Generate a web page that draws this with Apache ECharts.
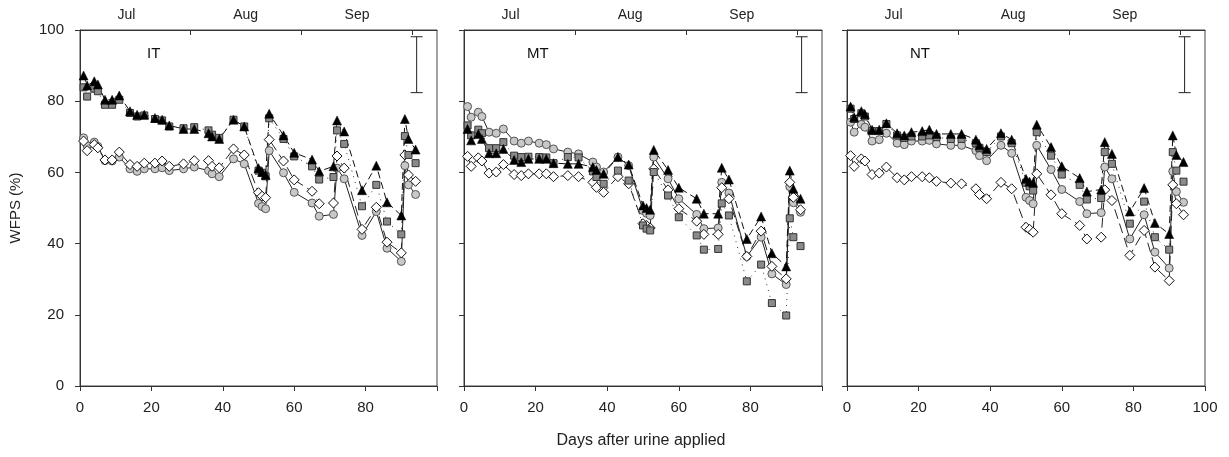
<!DOCTYPE html>
<html>
<head>
<meta charset="utf-8">
<script src="https://cdn.jsdelivr.net/npm/echarts@6/dist/echarts.min.js"></script>
<style>
html,body{margin:0;padding:0;background:#fff;}
#chart{width:1229px;height:457px;}
</style>
</head>
<body>
<div id="chart"></div>
<script>
// ---- Data ----
const days = [1,2,4,5,7,9,11,14,16,18,21,23,25,29,32,36,37,39,43,46,50,51,52,53,57,60,65,67,71,72,74,79,83,86,90,91,92,94];

const panelNames = ['IT','MT','NT'];

const IT_tri = [87.2,84.4,85.6,84.7,80.4,80.4,81.6,77.2,76.2,76.2,75.3,74.8,73.2,72.2,72.2,71.0,70.1,69.4,74.8,72.9,61.2,60.1,59.3,76.5,70.4,65.5,63.6,60.3,61.7,74.6,71.5,55.0,61.9,51.6,47.9,75.0,69.4,66.4];
const IT_sq  = [83.9,81.3,83.5,82.8,79.0,79.0,80.4,76.7,75.7,76.0,75.0,74.6,72.9,72.4,72.7,71.8,70.6,69.7,74.8,72.9,60.5,59.9,58.9,75.2,69.4,64.5,61.7,58.0,58.7,71.8,68.0,50.5,56.5,46.2,42.6,70.2,64.9,62.6];
const IT_cir = [69.7,67.5,68.5,67.3,63.3,63.2,64.3,61.0,60.3,61.0,61.0,61.3,60.5,61.0,61.5,60.5,59.6,58.8,63.8,62.4,51.3,50.4,49.8,66.1,59.9,54.4,51.4,47.7,48.2,61.2,58.2,42.3,49.0,38.7,35.0,61.9,56.5,53.8];
const IT_dia = [68.8,66.1,67.8,66.9,63.5,63.5,65.7,62.2,61.7,62.6,62.6,63.2,61.7,62.4,63.3,63.3,61.7,61.3,66.6,64.9,54.3,53.3,52.9,69.2,63.2,57.9,54.7,51.2,51.4,64.6,61.2,44.0,50.2,40.4,37.4,64.9,59.3,57.5];

const MT_tri = [72.2,69.0,70.8,69.4,65.4,65.4,66.6,63.5,62.9,63.8,63.8,63.8,62.6,62.4,62.4,61.5,60.7,59.6,64.3,62.2,50.7,50.0,49.5,66.3,60.7,55.7,52.6,48.4,48.4,61.3,58.0,41.3,47.6,37.3,33.6,60.5,55.4,52.6];
const MT_sq  = [73.2,70.4,72.0,71.0,66.8,66.8,68.5,64.7,64.3,64.4,64.3,64.2,62.6,64.3,64.2,60.3,58.7,56.8,60.5,57.7,45.1,44.2,43.7,60.1,53.5,47.4,42.3,38.3,38.5,51.3,47.9,29.4,34.1,23.3,19.8,47.1,41.8,39.3];
const MT_cir = [78.5,75.5,76.9,75.7,71.3,71.0,72.2,68.8,68.2,68.8,68.2,67.8,66.6,65.7,65.2,62.9,61.5,60.1,64.3,61.9,49.3,48.5,47.9,64.3,58.2,52.6,48.2,44.2,44.4,57.2,54.2,36.4,41.8,31.5,28.5,56.0,51.5,48.8];
const MT_dia = [64.5,61.7,64.1,63.2,59.8,60.1,62.2,59.4,59.1,59.6,59.6,59.6,58.8,59.1,58.8,57.2,55.8,54.4,58.8,56.8,45.6,45.1,44.4,61.0,55.1,49.8,46.3,42.6,42.6,55.7,52.6,36.4,43.5,33.6,30.1,57.2,53.0,49.5];

const NT_tri = [78.5,75.5,77.2,76.3,72.0,72.0,73.8,71.0,70.4,71.3,71.6,72.0,70.8,70.8,70.8,69.2,67.6,66.6,71.0,69.2,58.2,57.4,57.1,73.4,67.1,61.7,58.4,54.6,55.2,68.5,65.2,49.0,55.6,45.8,42.7,70.4,64.9,62.9];
const NT_sq  = [77.9,75.0,76.6,75.7,71.6,71.6,73.6,70.4,69.7,70.1,70.1,70.4,69.9,69.4,69.4,68.2,66.9,65.7,70.1,68.2,57.1,56.1,54.9,71.3,64.7,59.4,56.5,52.4,52.8,65.7,62.4,45.6,51.8,41.8,38.3,65.7,60.5,57.4];
const NT_cir = [74.1,71.3,73.5,72.7,68.8,69.2,71.0,68.2,67.8,68.8,68.8,69.0,68.0,67.6,67.6,66.1,64.7,63.3,67.6,65.4,53.0,52.1,51.2,67.6,60.8,55.2,51.8,48.4,48.7,61.5,58.2,41.3,48.1,37.6,33.1,60.3,54.6,51.6];
const NT_dia = [64.7,61.7,63.8,63.2,59.4,59.8,61.5,58.5,57.9,58.8,58.8,58.5,57.5,57.0,56.8,55.4,53.8,52.6,57.2,55.4,44.6,44.0,43.2,59.6,53.7,48.4,45.1,41.3,41.8,55.1,52.1,36.7,43.7,33.4,29.6,56.5,51.2,48.1];

// error bar: [day, low, high]
const errorBar = [94.3, 82.4, 98.1];

// month labels on the top axis
const monthTicks = [31, 62, 93];
const monthLabelPos = [13, 46.4, 77.6];
const monthNames = ['Jul', 'Aug', 'Sep'];

// ---- Build chart ----
const panels = [
  {tri: IT_tri, sq: IT_sq, cir: IT_cir, dia: IT_dia},
  {tri: MT_tri, sq: MT_sq, cir: MT_cir, dia: MT_dia},
  {tri: NT_tri, sq: NT_sq, cir: NT_cir, dia: NT_dia}
];

const FONT = '"Liberation Sans", Arial, sans-serif';
const TXT = '#222';
const AX = '#333';

const gridLefts = [80, 464, 847];
const gridW = [357, 358, 358];

const grids = [], xAxes = [], yAxes = [], series = [];
const pair = arr => days.map((d, i) => [d, arr[i]]);

panels.forEach((p, i) => {
  grids.push({left: gridLefts[i], top: 30, width: gridW[i], height: 356,
    show: true, borderColor: '#444', borderWidth: 1, backgroundColor: 'transparent'});
  // bottom axis
  xAxes.push({
    gridIndex: i, type: 'value', position: 'bottom', min: 0, max: 100, interval: 20,
    axisLine: {show: true, onZero: false, lineStyle: {color: AX, width: 1}},
    axisTick: {show: true, inside: false, length: 5, lineStyle: {color: AX}},
    axisLabel: {show: true, margin: 14, color: TXT, fontSize: 15, fontFamily: FONT,
      formatter: v => (i < 2 && v === 100) ? '' : String(v)},
    splitLine: {show: false}
  });
  // top axis (months)
  xAxes.push({
    gridIndex: i, type: 'value', position: 'top', min: 0, max: 100,
    axisLine: {show: true, onZero: false, lineStyle: {color: AX, width: 1}},
    axisTick: {show: true, inside: true, length: 5, customValues: monthTicks, lineStyle: {color: AX}},
    axisLabel: {show: true, margin: 8, color: TXT, fontSize: 14, fontFamily: FONT,
      customValues: monthLabelPos,
      formatter: v => {
        let k = 0, best = 1e9;
        monthLabelPos.forEach((m, j) => { if (Math.abs(m - v) < best) { best = Math.abs(m - v); k = j; } });
        return monthNames[k];
      }},
    splitLine: {show: false}
  });
  yAxes.push({
    gridIndex: i, type: 'value', min: 0, max: 100, interval: 20,
    axisLine: {show: true, onZero: false, lineStyle: {color: AX, width: 1}},
    axisTick: {show: true, inside: false, length: 5, lineStyle: {color: AX}},
    axisLabel: {show: i === 0, margin: 16, color: TXT, fontSize: 15, fontFamily: FONT},
    splitLine: {show: false}
  });

  const xi = i * 2;
  const base = {type: 'line', xAxisIndex: xi, yAxisIndex: i, animation: false, showAllSymbol: true,
    emphasis: {disabled: true}};
  series.push(Object.assign({}, base, {
    name: panelNames[i] + ' circles', data: pair(p.cir), symbol: 'circle', symbolSize: 8,
    itemStyle: {color: '#c8c8c8', borderColor: '#555', borderWidth: 1},
    lineStyle: {color: '#222', width: 1, type: 'solid'}
  }));
  series.push(Object.assign({}, base, {
    name: panelNames[i] + ' diamonds', data: pair(p.dia), symbol: 'diamond', symbolSize: 10,
    itemStyle: {color: '#ffffff', borderColor: '#111', borderWidth: 1},
    lineStyle: {color: '#222', width: 1, type: [10, 5]}
  }));
  series.push(Object.assign({}, base, {
    name: panelNames[i] + ' squares', data: pair(p.sq), symbol: 'rect', symbolSize: 7,
    itemStyle: {color: '#8a8a8a', borderColor: '#333', borderWidth: 1},
    lineStyle: {color: '#333', width: 1, type: [1, 5]}
  }));
  series.push(Object.assign({}, base, {
    name: panelNames[i] + ' triangles', data: pair(p.tri), symbol: 'triangle', symbolSize: 9,
    itemStyle: {color: '#000', borderColor: '#000', borderWidth: 0.5},
    lineStyle: {color: '#111', width: 1, type: [7, 4]}
  }));
  series.push({
    type: 'custom', xAxisIndex: xi, yAxisIndex: i, animation: false, silent: true,
    data: [errorBar],
    renderItem: (params, api) => {
      const top = api.coord([api.value(0), api.value(2)]);
      const bot = api.coord([api.value(0), api.value(1)]);
      const hw = 6;
      const st = {stroke: '#222', lineWidth: 1};
      return {type: 'group', children: [
        {type: 'line', shape: {x1: top[0], y1: top[1], x2: bot[0], y2: bot[1]}, style: st},
        {type: 'line', shape: {x1: top[0]-hw, y1: top[1], x2: top[0]+hw, y2: top[1]}, style: st},
        {type: 'line', shape: {x1: bot[0]-hw, y1: bot[1], x2: bot[0]+hw, y2: bot[1]}, style: st}
      ]};
    }
  });
});

const labelX = [147, 527, 910];
const graphic = panelNames.map((n, i) => ({
  type: 'text', left: labelX[i], top: 46,
  style: {text: n, fontSize: 15, fontFamily: FONT, fill: '#111'}
}));
graphic.push({
  type: 'text', x: 16, y: 208, rotation: Math.PI / 2,
  style: {text: 'WFPS (%)', fontSize: 15, fontFamily: FONT, fill: TXT, align: 'center', verticalAlign: 'middle'}
});
graphic.push({
  type: 'text', x: 641, y: 441,
  style: {text: 'Days after urine applied', fontSize: 16, fontFamily: FONT, fill: TXT, align: 'center', verticalAlign: 'middle'}
});

const chart = echarts.init(document.getElementById('chart'), null, {renderer: 'canvas'});
chart.setOption({
  animation: false,
  backgroundColor: '#fff',
  grid: grids, xAxis: xAxes, yAxis: yAxes, series: series, graphic: graphic
});
</script>
</body>
</html>
